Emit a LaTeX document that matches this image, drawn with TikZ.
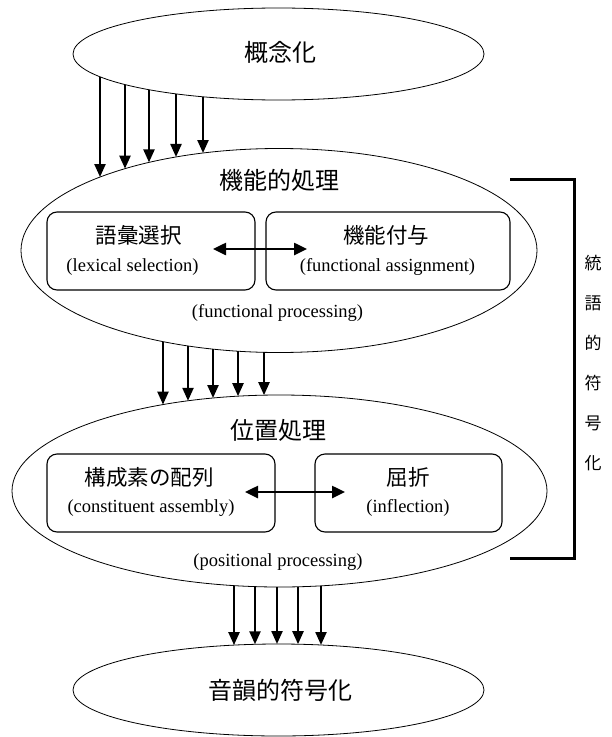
\documentclass[tikz,border=0pt]{standalone}
\usepackage{fontspec}
\newfontfamily\jp{Noto Sans CJK JP}
\newfontfamily\en{Liberation Serif}
\usetikzlibrary{arrows.meta,shapes.geometric}
\tikzset{
  oval/.style={draw, ellipse, line width=0.8bp, inner sep=0pt},
  rbox/.style={draw, rounded corners=10bp, line width=1.1bp, inner sep=0pt},
  jbig/.style={font=\jp\fontsize{24bp}{28bp}\selectfont, inner sep=0pt},
  jmid/.style={font=\jp\fontsize{21.5bp}{25bp}\selectfont, inner sep=0pt},
  eng/.style={font=\en\fontsize{18.5bp}{21bp}\selectfont, inner sep=0pt},
  flow/.style={line width=2.3bp, -{Triangle[length=13bp,width=11bp]}},
  both/.style={line width=2.5bp, {Triangle[length=13bp,width=12bp]}-{Triangle[length=13bp,width=12bp]}},
  brk/.style={line width=3bp},
}
\begin{document}
\begin{tikzpicture}[x=1bp,y=-1bp]
\useasboundingbox (0,0) rectangle (612,737);
% ellipses
\node[oval, minimum width=411bp, minimum height=92bp] (e1) at (278.5,54) {};
\node[oval, minimum width=516bp, minimum height=204bp] (e2) at (279,250.5) {};
\node[oval, minimum width=535bp, minimum height=192bp] (e3) at (279.5,491) {};
\node[oval, minimum width=411bp, minimum height=92bp] (e4) at (278.5,690) {};
% ellipse labels
\node[jbig] (t1) at (280,52) {概念化};
\node[jbig] (t2) at (279.5,180) {機能的処理};
\node[eng] (t2e) at (277.5,313) {(functional processing)};
\node[jbig] (t3) at (278,430) {位置処理};
\node[eng] (t3e) at (278,562) {(positional processing)};
\node[jbig] (t4) at (280,690) {音韻的符号化};
% boxes
\draw[rbox] (47,212) rectangle (255,290);
\node[inner sep=0pt, minimum width=208bp, minimum height=78bp] (b1) at (151,251) {};
\node[jmid] (b1j) at (138.5,235) {語彙選択};
\node[eng] (b1e) at (132.5,267) {(lexical selection)};
\draw[rbox] (266,212) rectangle (510,290);
\node[inner sep=0pt, minimum width=244bp, minimum height=78bp] (b2) at (388,251) {};
\node[jmid] (b2j) at (386,235) {機能付与};
\node[eng] (b2e) at (387.5,267) {(functional assignment)};
\draw[rbox] (47,454) rectangle (275,532);
\node[inner sep=0pt, minimum width=228bp, minimum height=78bp] (b3) at (161,493) {};
\node[jmid] (b3j) at (149,477) {構成素の配列};
\node[eng] (b3e) at (151,508) {(constituent assembly)};
\draw[rbox] (315,454) rectangle (502,532);
\node[inner sep=0pt, minimum width=187bp, minimum height=78bp] (b4) at (408.5,493) {};
\node[jmid] (b4j) at (408,477) {屈折};
\node[eng] (b4e) at (408,508) {(inflection)};
% double arrows
\coordinate (d1a) at (213,249);
\coordinate (d1b) at (307,249);
\draw[both] (d1a) -- (d1b);
\coordinate (d2a) at (245,492);
\coordinate (d2b) at (345,492);
\draw[both] (d2a) -- (d2b);
% flow arrows
\foreach \x in {100,125,149,176,203} {
  \pgfmathsetmacro\ya{54+46*sqrt(1-((\x-278.5)/205.5)^2)}
  \pgfmathsetmacro\yb{250.5-102*sqrt(1-((\x-279)/258)^2)}
  \draw[flow] (\x,\ya) -- (\x,\yb);
}
\foreach \x in {163,188,213,238,264} {
  \pgfmathsetmacro\ya{250.5+102*sqrt(1-((\x-279)/258)^2)}
  \pgfmathsetmacro\yb{491-96*sqrt(1-((\x-279.5)/267.5)^2)}
  \draw[flow] (\x,\ya) -- (\x,\yb);
}
\foreach \x in {234,255,277,298,321} {
  \pgfmathsetmacro\ya{491+96*sqrt(1-((\x-279.5)/267.5)^2)}
  \pgfmathsetmacro\yb{690-46*sqrt(1-((\x-278.5)/205.5)^2)}
  \draw[flow] (\x,\ya) -- (\x,\yb);
}
% bracket
\coordinate (k1) at (510,179);
\coordinate (k2) at (574,558);
\coordinate (k3) at (510,558);
\draw[brk] (k1) -| (k2) -- (k3);
\node[font=\jp\fontsize{17bp}{40bp}\selectfont, align=center, inner sep=0pt] (side) at (593,363) {統\\語\\的\\符\\号\\化};
\end{tikzpicture}
\end{document}
